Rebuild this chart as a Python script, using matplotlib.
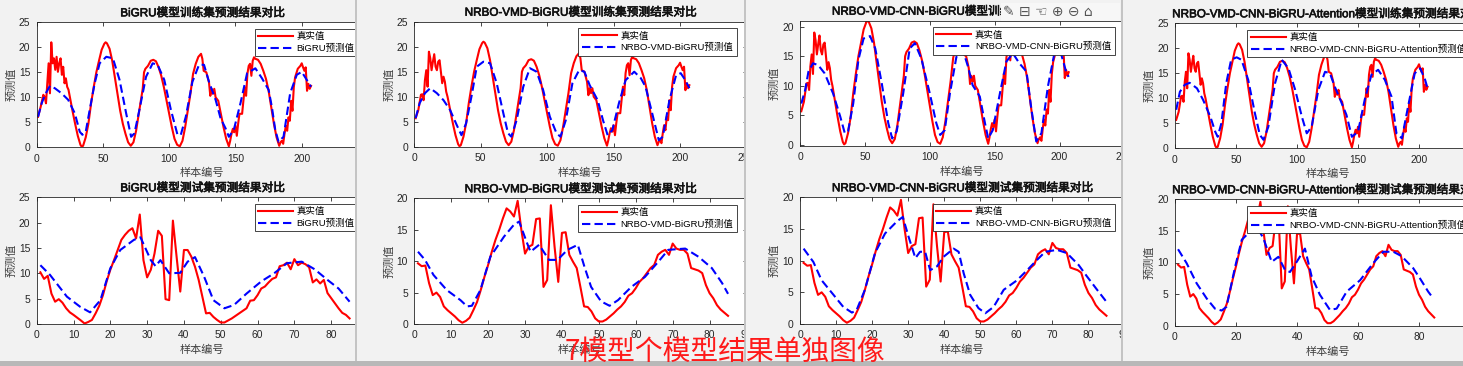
import numpy as np
import matplotlib.pyplot as plt
import matplotlib.patheffects as pe
from matplotlib.patches import Rectangle

plt.rcParams['font.family'] = ['Liberation Sans', 'Noto Sans CJK SC', 'DejaVu Sans']

# ---- datos ----
models = ['BiGRU', 'NRBO-VMD-BiGRU', 'NRBO-VMD-CNN-BiGRU', 'NRBO-VMD-CNN-BiGRU-Attention']

# valores reales, conjunto de entrenamiento (207 muestras, leidos aprox.)
train_true_x = [1, 3, 5, 6, 7, 8, 9, 10, 11, 12, 13, 14, 15, 16, 17, 18, 19, 20, 21, 22,
                23, 24, 25, 27, 29, 31, 33, 34, 35, 37, 39, 41, 43, 45, 47, 49, 51, 52, 53, 55,
                57, 59, 61, 63, 65, 67, 69, 71, 73, 75, 77, 79, 80, 81, 82, 84, 86, 88, 90, 92,
                94, 96, 98, 100, 102, 104, 106, 108, 110, 112, 114, 116, 118, 120, 122, 124, 125, 126, 128, 130,
                131, 132, 133, 134, 135, 137, 139, 141, 143, 145, 146, 147, 148, 149, 150, 151, 152, 153, 155, 156,
                157, 158, 159, 160, 161, 162, 163, 164, 165, 167, 169, 171, 173, 175, 177, 179, 181, 183, 184, 185,
                186, 187, 188, 189, 190, 191, 192, 193, 194, 195, 197, 199, 200, 201, 202, 203, 204, 205, 206, 207]
train_true_y = [5.7, 7.3, 10.4, 10.5, 9.3, 13.3, 15.3, 12, 19, 17.7, 15.3, 17, 18.5, 16, 15.3, 17, 17.3, 15, 12.7, 14,
                13, 11, 10, 7.3, 4.7, 2.3, 0.5, 0.1, 0.3, 2, 4.7, 8.7, 12, 15, 17.3, 19.5, 20.7, 21, 20.8, 19.7,
                17.3, 14, 10.7, 7.3, 4.7, 2.7, 1, 0.3, 1, 3.3, 6.7, 10, 11.7, 15, 15.7, 16.3, 17.3, 17.5, 17.2, 16,
                14.3, 12, 9.3, 6.7, 4, 1.7, 0.5, 0.2, 1.3, 4, 7.3, 10.7, 14.7, 16.7, 18.1, 18.7, 17.7, 15.3, 15, 13,
                10.3, 11.7, 10.7, 11.7, 10, 9.3, 6.7, 4, 1.7, 0.2, 1.3, 2.7, 3.7, 3, 4.3, 2.3, 4.7, 6.7, 6.7, 9.3,
                12, 10.3, 14.7, 16.3, 16.7, 14.3, 17.3, 18, 17.7, 17.5, 16.7, 15.3, 13.7, 11.3, 8, 4.7, 2, 0.3, 1, 1.3,
                0.7, 2.7, 4.3, 3.3, 6, 5.3, 9.3, 7.3, 12, 14, 15.7, 16.3, 16.8, 16, 15.3, 16, 11.3, 12.7, 11.7, 12.3]
# inicio distinto en la figura BiGRU
train_true_head_bigru_x = [1, 3, 5, 6, 7, 8, 9, 10, 11, 12, 13, 14, 15, 16, 17, 18, 19, 20, 21, 22, 23, 24, 25]
train_true_head_bigru_y = [6.1, 8.1, 10.5, 10.1, 8.8, 12.8, 16.8, 10.8, 21, 16.8, 17.8, 15.5, 18.1, 15.1, 16.8,
                           17.8, 14.5, 16.1, 12.8, 13.8, 12.1, 11.5, 10.1]

# predicciones, entrenamiento
train_pred_x = [
    [1, 3.75, 6.25, 10, 13.75, 18.75, 23.75, 28.75, 32.5, 34.5, 37, 40, 43.75, 47.5, 52.5, 57.5, 62.5, 67.5, 71.25, 73.75,
     77.5, 82.5, 87.5, 91.25, 96.25, 101.25, 106.25, 108.75, 112.5, 117.5, 122.5, 126.25, 130, 135, 138.75, 142.5, 145,
     148.75, 153.75, 158.75, 165, 170, 175, 177.5, 180, 182.5, 186.25, 191.25, 196.25, 200, 203.75, 207],
    [1, 4, 8, 12, 17, 22, 27, 32, 35.5, 39, 43, 47, 52, 57, 62, 67, 70.5, 73, 77, 82,
     87, 92, 97, 102, 107, 110, 114, 119, 124, 128, 132, 138, 142, 145.5, 149, 154, 159, 165.5, 170.5, 174,
     179, 184, 187, 192, 197, 200.5, 204, 207],
    [1, 4, 6.5, 10, 14, 19, 25.5, 31, 34.5, 37, 41, 45, 49, 54, 58, 63, 68, 71, 74.5, 79.5,
     84.5, 88.5, 93.5, 100, 105, 108, 111.5, 115.5, 120.5, 125.5, 129.5, 133, 138.5, 142.5, 145, 148.5, 154, 159, 164, 169,
     174.5, 178, 182, 186, 191, 196, 201, 205, 207],
    [1, 4, 8, 12, 18, 23, 29, 33, 35, 38, 42, 46, 50.5, 54.5, 60, 65.5, 69.5, 72.5, 76.5, 82,
     87.5, 93, 98.5, 104, 108, 112, 117.5, 123, 127, 131, 135, 140.5, 145, 150, 155.5, 161, 166.5, 172, 177.5, 181.5,
     186, 191, 196.5, 201, 205, 207],
]
train_pred_y = [
    [6.1, 8.8, 10.5, 12.3, 11.8, 10.8, 9.5, 6.8, 3.1, 2.5, 3.1, 7.5, 12.8, 16.8, 18.1, 17.8, 13.5, 6.8, 2.1, 2.8,
     7.5, 14.1, 16.8, 16.5, 13.5, 7.5, 2.5, 2.5, 6.1, 13.1, 16.5, 16.5, 13.1, 9.5, 5.8, 3.8, 2.1, 3.5, 8.8, 14.8,
     15.8, 13.8, 11.5, 8, 3.5, 1.1, 2.1, 10.8, 14.5, 15.1, 13.5, 12.1],
    [5.7, 8.7, 10.7, 11.7, 10.7, 9.3, 7.3, 4.3, 2.3, 4.7, 10, 16, 17, 16.7, 12.7, 6.7, 2.7, 2, 5.3, 12,
     15.7, 15, 11.3, 6, 2.7, 2, 5.3, 12.7, 15.3, 15, 12.3, 9.3, 5.3, 2.3, 3.3, 8.7, 13.3, 15, 13.7, 12,
     6.7, 1.3, 2, 9.3, 14.3, 14.7, 13.3, 11.7],
    [7, 9.3, 12.4, 13.8, 13.5, 12.1, 8.7, 4.8, 2, 2.3, 7, 14.4, 18, 18.4, 16.3, 10.4, 3.7, 1.1, 2.3, 8.7,
     16.3, 17.2, 14.6, 8.7, 3.7, 1.7, 2.5, 8.7, 14.9, 16, 13.2, 10.1, 8.2, 3.7, 1.1, 2.5, 8.7, 14.1, 15.5, 13.8,
     12.4, 6.5, 0.6, 2, 9.9, 15.5, 15.5, 12.4, 11.5],
    [7.7, 11.3, 12.7, 13.1, 12, 9.7, 6.3, 3.3, 2.3, 5, 13, 17.7, 18.2, 17.7, 13.7, 7, 2.7, 1.7, 4.3, 13,
     17.7, 16, 11.7, 6.3, 3, 4.3, 11.7, 15.3, 15, 12.3, 10, 6.7, 2.3, 3.3, 9.7, 14.7, 15.7, 13.7, 10.3, 3,
     2, 8.3, 15, 16, 13.7, 12],
]

# valores reales, conjunto de prueba (85 muestras)
test_true = [9.65, 9.2, 9.3, 6.5, 4.6, 5.0, 4.3, 2.8, 2.2, 1.7,
             1.2, 0.6, 0.2, 0.5, 1.0, 2.2, 3.5, 5.4, 7.5, 9.4,
             11.5, 13.4, 15.0, 16.8, 18.4, 17.9, 17.1, 19.6, 15.0, 11.2,
             12.3, 12.6, 16.7, 16.8, 5.9, 7.0, 18.9, 12.3, 6.7, 14.5,
             14.6, 11.0, 9.9, 8.9, 5.9, 2.8, 2.7, 2.0, 0.9, 0.4,
             0.4, 0.7, 1.2, 1.7, 2.3, 2.8, 3.5, 4.5, 4.9, 5.7,
             6.7, 7.3, 8.1, 8.9, 9.4, 11.0, 11.5, 11.8, 11.0, 12.8,
             12.0, 11.8, 11.8, 11.2, 8.9, 8.7, 8.5, 8.1, 6.2, 4.9,
             4.1, 3.0, 2.3, 1.8, 1.3]
test_true_bigru = [10.2, 8.9, 9.5, 6.0, 4.4, 4.9, 4.2, 3.1, 2.3, 1.8,
                   1.25, 0.7, 0.1, 0.4, 0.8, 2.1, 3.6, 5.7, 8.4, 10.7,
                   12.6, 14.6, 16.6, 17.6, 18.4, 18.9, 16.9, 21.6, 12.6, 9.2,
                   10.7, 13.9, 18.4, 17.4, 4.9, 4.7, 20.4, 13.3, 6.4, 14.6,
                   14.6, 13.3, 11.3, 8.7, 5.4, 2.1, 2.2, 1.4, 0.8, 0.3,
                   0.3, 0.7, 1.1, 1.6, 2.1, 2.6, 3.1, 4.6, 4.7, 5.7,
                   7.0, 7.4, 8.2, 8.9, 9.2, 11.4, 11.6, 12.1, 10.8, 12.8,
                   11.6, 12.1, 11.8, 11.2, 8.2, 8.8, 8.0, 8.7, 6.1, 5.1,
                   4.1, 3.1, 2.2, 1.8, 1.1]

test_pred_x = [
    [1, 3.6, 8.2, 11.8, 14.5, 17.3, 20, 22.7, 26.4, 28.2, 31, 32.3, 33.6, 36, 39, 41, 43, 45.5, 48, 51,
     53.6, 57, 61, 64.5, 68, 72, 75.5, 79, 82, 85],
    [1, 2.9, 5.2, 8.8, 12.5, 14.3, 15.6, 17.9, 20.6, 24.3, 27, 28.4, 30.6, 31.5, 33.8, 36.5, 38.8, 41.5, 44.3, 46.1,
     47.9, 50.6, 52.9, 55.2, 58.8, 62.5, 66.1, 68.8, 73.4, 77, 80.6, 83.4, 85],
    [1, 3.7, 6, 9.3, 12, 14.4, 15.7, 18, 20.8, 23.6, 26.9, 28.5, 30.1, 32, 33.3, 34.7, 36.1, 38, 39.8, 42.6,
     44, 45.4, 47.2, 49.5, 51.4, 53.7, 56.5, 60.2, 63, 65.7, 68, 71.3, 74, 77.3, 79.6, 82.4, 85],
    [1, 3.8, 7.1, 10.4, 13.1, 15.3, 16.9, 19.7, 21.9, 24.6, 26.8, 29, 31.7, 33.9, 36.1, 37.7, 39.9, 42.6, 44.8, 47.5,
     50.8, 53, 56.3, 60.7, 65, 68.3, 71.6, 74.3, 78.1, 80.3, 83, 84.7],
]
test_pred_y = [
    [11.6, 9.7, 5.4, 3.4, 2.3, 4.7, 11, 14.6, 16.6, 17.1, 12.6, 11.4, 12.6, 10, 10.1, 12.3, 13.2, 9.3, 4.7, 3.1,
     3.75, 6, 8.4, 10, 12, 12.3, 10.8, 8.7, 7, 4.4],
    [11.5, 10.2, 7.8, 5.4, 3.8, 2.8, 2.9, 5.4, 10.7, 13.9, 15.8, 16.3, 12.8, 11.5, 12.6, 10.2, 10.2, 11.8, 12.6, 9.1,
     5.9, 3.6, 2.9, 3.8, 5.9, 7.5, 9.9, 11.8, 12.0, 10.7, 8.9, 6.5, 4.8],
    [11.9, 9.8, 6.9, 4.6, 2.7, 1.8, 2.2, 5.4, 11.2, 14.3, 16.2, 16.9, 13.8, 10.4, 11.4, 11.4, 8.5, 9.1, 10.6, 11.9,
     11.4, 8, 4.6, 2.5, 1.7, 2.7, 5.4, 6.9, 8.5, 10.1, 11.4, 11.7, 11.2, 9.3, 7.5, 5.4, 3.5],
    [12.1, 9.9, 6.7, 4.3, 2.7, 2.4, 3, 9.3, 13.6, 14.9, 15.7, 13.8, 10.1, 10.9, 8.8, 8.5, 10.1, 12.2, 7.8, 4.9,
     2.5, 2.7, 5.4, 7.2, 9.9, 11.7, 11.7, 11, 9.1, 7.5, 5.4, 4.3],
]

# ---- maquetacion (pixeles de la captura) ----
W, H = 1463, 366
fig = plt.figure(figsize=(W / 100, H / 100), dpi=100)
bg = '#f2f2f2'
fig.patch.set_facecolor(bg)

win_left = [0, 357, 746, 1123]
# (izq, arriba, der, abajo) de cada eje
train_box = [(36.7, 22.3, 368, 147.3), (414.3, 21.7, 746.5, 146.7), (800, 20.7, 1124.5, 145.7), (1175, 23.3, 1480, 148.3)]
test_box = [(36.7, 197.3, 368, 324), (414.3, 198.3, 746.5, 324), (800, 197.3, 1124.5, 324), (1175, 199.3, 1480, 325.7)]
train_ylim = [(0, 25), (0, 25), (-0.12, 21), (0, 25)]
test_ylim = [(0, 25), (0, 20), (0, 20), (0, 20)]
test_xlim = [90, 90, 90, 100]
dark = '#262626'


def px_axes(box):
    x0, y0, x1, y1 = box
    return fig.add_axes([x0 / W, 1 - y1 / H, (x1 - x0) / W, (y1 - y0) / H])


def style(ax, box, title, legend_label):
    x0, y0, x1, y1 = box
    aw, ah = x1 - x0, y1 - y0
    ax.set_facecolor('white')
    for s in ax.spines.values():
        s.set_linewidth(0.6)
        s.set_color(dark)
    ax.tick_params(direction='in', length=3, width=0.6, top=True, right=True,
                   labelsize=7.4, colors=dark, pad=4.5)
    ax.set_xlabel('样本编号', fontsize=8, color='#404040')
    ax.set_ylabel('预测值', fontsize=8, color='#404040')
    ax.xaxis.set_label_coords(0.5, -26 / ah)
    ax.xaxis.label.set_va('center')
    ax.yaxis.set_label_coords(-25 / aw, 0.5)
    ax.yaxis.label.set_va('center')
    ax.text(0.5, 1 + 9 / ah, title, transform=ax.transAxes, ha='center', va='center',
            fontsize=8.4, color='#111111', clip_on=False,
            path_effects=[pe.withStroke(linewidth=0.45, foreground='#111111')])
    leg = ax.legend(['真实值', legend_label], loc='upper right',
                    bbox_to_anchor=(1 - 10 / aw, 1 - 6.5 / ah), borderaxespad=0,
                    fontsize=6.8, handlelength=3.7, handletextpad=0.4, borderpad=0.35,
                    labelspacing=0.3, fancybox=False, framealpha=1)
    leg.get_frame().set_edgecolor(dark)
    leg.get_frame().set_linewidth(0.6)


for k, m in enumerate(models):
    # fondo de la ventana de cada figura (se solapan como en la captura)
    fig.add_artist(Rectangle((win_left[k] / W, 1 - 361 / H), 1 - win_left[k] / W, 361 / H,
                             transform=fig.transFigure, facecolor=bg, edgecolor='none', zorder=2 * k + 1))
    if k > 0:
        fig.add_artist(Rectangle(((win_left[k] - 2) / W, 1 - 361 / H), 2 / W, 361 / H,
                                 transform=fig.transFigure, facecolor='#c4c4c4', edgecolor='none', zorder=2 * k + 1))

    # entrenamiento
    ax = px_axes(train_box[k])
    ax.set_zorder(2 * k + 2)
    if k == 0:
        tx = train_true_head_bigru_x + [x for x in train_true_x if x > 25]
        ty = train_true_head_bigru_y + [y for x, y in zip(train_true_x, train_true_y) if x > 25]
    else:
        tx, ty = train_true_x, train_true_y
    ax.plot(tx, ty, color='red', lw=1.5)
    ax.plot(train_pred_x[k], train_pred_y[k], color='blue', lw=1.5, ls=(0, (4, 2)))
    ax.set_xlim(0, 250)
    ax.set_ylim(*train_ylim[k])
    ax.set_xticks(np.arange(0, 251, 50))
    ax.set_yticks(np.arange(0, train_ylim[k][1] + 0.01, 5))
    style(ax, train_box[k], m + '模型训练集预测结果对比', m + '预测值')

    # prueba
    ax = px_axes(test_box[k])
    ax.set_zorder(2 * k + 2)
    tt = test_true_bigru if k == 0 else test_true
    ax.plot(np.arange(1, len(tt) + 1), tt, color='red', lw=1.5)
    ax.plot(test_pred_x[k], test_pred_y[k], color='blue', lw=1.5, ls=(0, (4, 2)))
    ax.set_xlim(0, test_xlim[k])
    ax.set_ylim(*test_ylim[k])
    ax.set_xticks(np.arange(0, test_xlim[k] + 1, 10 if test_xlim[k] == 90 else 20))
    ax.set_yticks(np.arange(0, test_ylim[k][1] + 0.01, 5))
    style(ax, test_box[k], m + '模型测试集预测结果对比', m + '预测值')

# barra de herramientas sobre el titulo de la tercera figura
fig.add_artist(Rectangle((1001 / W, 1 - 21 / H), 119 / W, 18 / H, transform=fig.transFigure,
                         facecolor='#f7f7f7', edgecolor='none', zorder=6.5))
fig.text(1003 / W, 1 - 12 / H, '✎ ⊟ ☜ ⊕ ⊖ ⌂', family=['DejaVu Sans'], fontsize=10,
         color='#555555', va='center', ha='left', zorder=6.6)

# franja inferior y texto rojo superpuesto
fig.add_artist(Rectangle((0, 0), 1, 5 / H, transform=fig.transFigure,
                         facecolor='#b8b8b8', edgecolor='none', zorder=15))
fig.text(565 / W, 1 - 351.5 / H, '7模型个模型结果单独图像', family=['Noto Sans CJK SC', 'DejaVu Sans'],
         fontsize=20, color='#ff1a1a', va='center', ha='left', zorder=20)

plt.savefig('out.png', dpi=100, facecolor=fig.get_facecolor())
